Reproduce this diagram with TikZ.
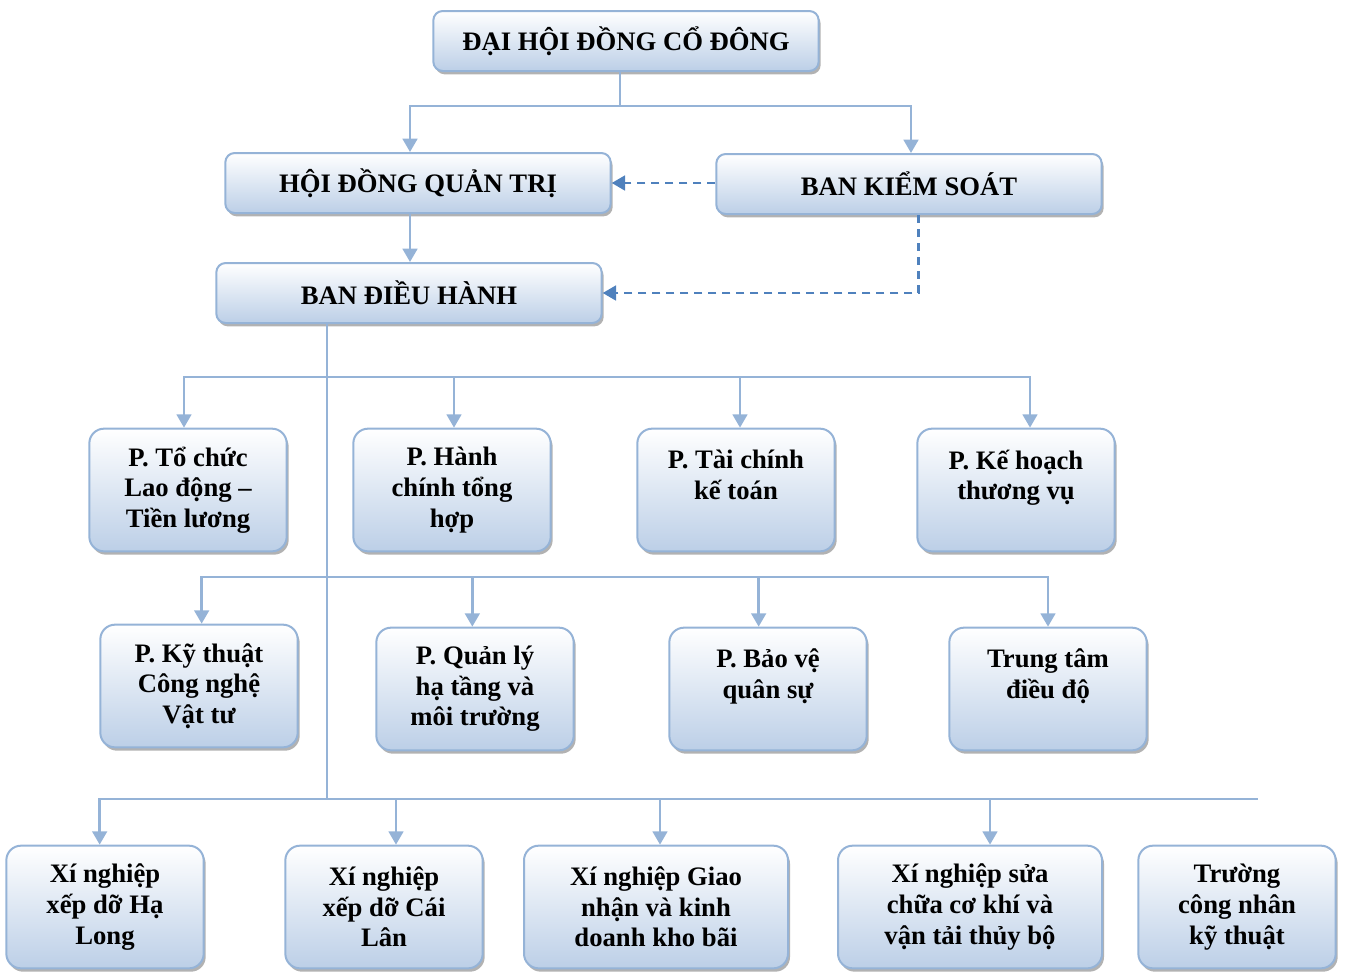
\documentclass[tikz,border=0pt]{standalone}
\usepackage{fontspec}
\setmainfont{Liberation Serif}
\usetikzlibrary{arrows.meta,shadows}

\definecolor{lineblue}{RGB}{149,179,215}
\definecolor{fillblue}{RGB}{188,207,231}
\definecolor{dashblue}{RGB}{79,129,189}

\tikzset{
  bigbox/.style={draw=lineblue, line width=1.5pt, rounded corners=7pt,
    top color=white, bottom color=fillblue,
    drop shadow={shadow xshift=1.5pt, shadow yshift=-2.5pt, fill=black!60, opacity=.5},
    minimum width=289pt, minimum height=45pt,
    font=\fontsize{20}{23}\selectfont\bfseries},
  smallbox/.style={bigbox, rounded corners=11pt, minimum width=148pt, minimum height=92pt,
    align=center, inner sep=2pt},
  widebox/.style={smallbox, minimum width=198pt},
  conn/.style={draw=lineblue, line width=2pt},
  arr/.style={conn, -{Triangle[width=11pt,length=10pt]}},
  kiemsoat/.style={draw=dashblue, line width=2pt, dash pattern=on 6pt off 4.5pt,
    -{Triangle[width=11pt,length=10pt]}}
}

\begin{document}
\begin{tikzpicture}[x=0.75pt, y=-0.75pt]
  \useasboundingbox (0,0) rectangle (1345,971);

  % Top levels
  \node[bigbox] (dhcd) at (626,41) {ĐẠI HỘI ĐỒNG CỔ ĐÔNG};
  \node[bigbox] (hdqt) at (418,183) {HỘI ĐỒNG QUẢN TRỊ};
  \node[bigbox] (bks) at (909,184) {BAN KIỂM SOÁT};
  \node[bigbox] (bdh) at (409,293) {BAN ĐIỀU HÀNH};

  % Row 1
  \node[smallbox] (p1) at (188,490) {P. Tổ chức\\Lao động –\\Tiền lương};
  \node[smallbox] (p2) at (452,490) {P. Hành\\chính tổng\\hợp};
  \node[smallbox] (p3) at (736,490) {P. Tài chính\\kế toán\\\mbox{}};
  \node[smallbox] (p4) at (1016,490) {P. Kế hoạch\\thương vụ\\\mbox{}};

  % Row 2
  \node[smallbox] (q1) at (199,686) {P. Kỹ thuật\\Công nghệ\\Vật tư};
  \node[smallbox] (q2) at (475,689) {P. Quản lý\\hạ tầng và\\môi trường};
  \node[smallbox] (q3) at (768,689) {P. Bảo vệ\\quân sự\\\mbox{}};
  \node[smallbox] (q4) at (1048,689) {Trung tâm\\điều độ\\\mbox{}};

  % Row 3
  \node[smallbox] (x1) at (105,907) {Xí nghiệp\\xếp dỡ Hạ\\Long};
  \node[smallbox] (x2) at (384,907) {Xí nghiệp\\xếp dỡ Cái\\Lân};
  \node[widebox] (x3) at (656,907) {Xí nghiệp Giao\\nhận và kinh\\doanh kho bãi};
  \node[widebox] (x4) at (970,907) {Xí nghiệp sửa\\chữa cơ khí và\\vận tải thủy bộ};
  \node[smallbox] (x5) at (1237,907) {Trường\\công nhân\\kỹ thuật};

  % Connectors at the top
  \coordinate (topbus) at (620,106);
  \draw[conn] (dhcd.south -| topbus) -- (topbus);
  \draw[arr] (topbus) -| ([xshift=-6pt]hdqt.north);
  \draw[arr] (topbus) -| ([xshift=1.5pt]bks.north);
  \draw[arr] ([xshift=-6pt]hdqt.south) -- ([xshift=-6pt]hdqt.south |- bdh.north);
  \draw[kiemsoat] (bks.west |- hdqt.east) -- (hdqt.east);
  \draw[kiemsoat] ([xshift=7pt]bks.south) |- (bdh.east);

  % Trunk and buses
  \coordinate (bus1) at (327,377);
  \coordinate (bus2) at (327,577);
  \coordinate (bus3) at (327,799);
  \coordinate (busend) at (1258,799);
  \draw[conn] (bdh.south -| bus1) -- (bus3);
  \draw[conn] (bus3) -- (busend);

  \draw[arr] (bus1) -| ([xshift=-3pt]p1.north);
  \draw[arr] (bus1) -| ([xshift=1.5pt]p2.north);
  \draw[arr] (bus1) -| ([xshift=3pt]p3.north);
  \draw[arr] (bus1) -| ([xshift=10.5pt]p4.north);

  \draw[arr] (bus2) -| ([xshift=2pt]q1.north);
  \draw[arr] (bus2) -| ([xshift=-2pt]q2.north);
  \draw[arr] (bus2) -| ([xshift=-7pt]q3.north);
  \draw[arr] (bus2) -| (q4.north);

  \draw[arr] (bus3) -| ([xshift=-4pt]x1.north);
  \draw[arr] (bus3) -| ([xshift=9pt]x2.north);
  \draw[arr] (bus3) -| ([xshift=3pt]x3.north);
  \draw[arr] (bus3) -| ([xshift=15pt]x4.north);
\end{tikzpicture}
\end{document}
